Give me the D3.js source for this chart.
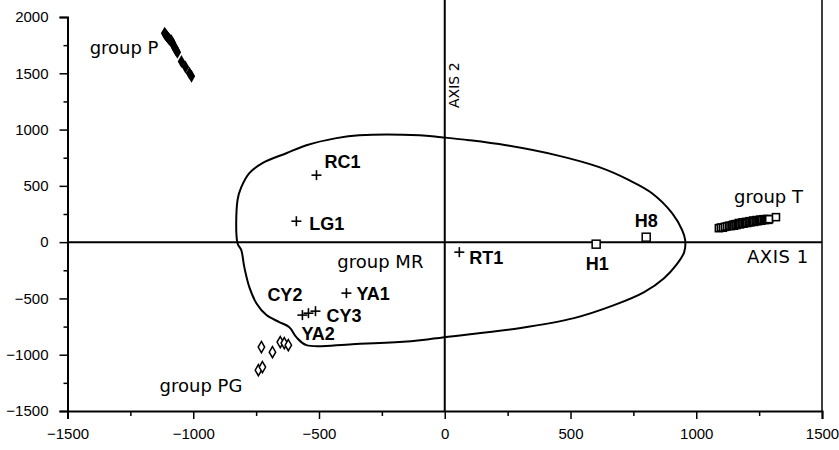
<!DOCTYPE html>
<html><head><meta charset="utf-8">
<script src="https://cdn.jsdelivr.net/npm/d3@7"></script>
<style>
body{margin:0;background:#fff;}
svg{display:block;}
</style>
</head><body>
<svg id="chart" width="839" height="450"></svg>
<script>
// ---------- DATA ----------
const xTicks = [-1500, -1000, -500, 0, 500, 1000, 1500];
const yTicks = [-1500, -1000, -500, 0, 500, 1000, 1500, 2000];

const groupP = [[-1114,1856],[-1110,1845],[-1106,1832],[-1102,1821],[-1098,1810],[-1094,1800],[-1087,1790],
  [-1082,1768],[-1078,1745],[-1072,1722],[-1068,1705],[-1063,1687],[-1047,1605],[-1031,1556],[-1015,1501],[-1007,1474]];

const groupT = [[1090,124],[1098,130],[1106,128],[1114,136],[1122,140],[1130,146],[1136,142],[1142,150],
  [1148,156],[1150,146],[1156,160],[1160,152],[1166,162],[1170,170],[1174,158],[1180,168],[1184,176],
  [1188,164],[1194,172],[1198,180],[1202,170],[1208,178],[1212,186],[1216,176],[1222,184],[1226,192],
  [1230,180],[1236,188],[1240,196],[1244,186],[1250,194],[1254,200],[1258,190],[1262,198],[1268,204],
  [1272,196],[1276,202],[1282,206],[1286,198],[1290,204],[1317,222]];

const groupPG = [[-729,-932],[-685,-977],[-654,-888],[-638,-897],[-622,-915],[-741,-1137],[-725,-1110]];

const mrNames = ["RC1","LG1","RT1","YA1","CY2","YA2","CY3"];
const mrX = [-510,-590,58,-391,-566,-542,-514];
const mrY = [595,186,-89,-453,-648,-631,-613];

const hNames = ["H1","H8"];
const hX = [602,801];
const hY = [-18,44];

const contour = [[-824,-9],[-824,373],[-809,488],[-777,613],[-725,702],[-630,790],[-550,861],[-431,924],
  [-340,950],[-101,950],[-14,932],[97,906],[244,861],[443,773],[614,666],[733,551],[824,435],[904,258],
  [944,107],[956,18],[952,-89],[920,-204],[872,-320],[793,-444],[673,-560],[514,-675],[296,-764],
  [-2,-844],[-89,-870],[-181,-888],[-368,-906],[-550,-915],[-590,-844],[-618,-755],[-658,-710],
  [-709,-648],[-749,-542],[-777,-400],[-797,-222],[-809,-71]];

const groupNames = ["group P","group MR","group T","group PG"];
const groupLabelX = [-1412,-427,1150,-1134];
const groupLabelY = [1670,-231,346,-1332];

// ---------- LAYOUT ----------
const L = {left:67.5, right:822, top:17, bottom:411};
const labelOffsets = {
  RC1:{dx:8,dy:-7,anchor:"start"}, LG1:{dx:13,dy:9,anchor:"start"}, RT1:{dx:10,dy:12,anchor:"start"},
  YA1:{dx:10,dy:7,anchor:"start"}, CY2:{dx:0,dy:-14,anchor:"end"}, YA2:{dx:-7,dy:27,anchor:"start"},
  CY3:{dx:11,dy:11,anchor:"start"}, H1:{dx:1,dy:26,anchor:"middle"}, H8:{dx:0,dy:-10,anchor:"middle"}
};

const svg = d3.select("#chart");
const x = d3.scaleLinear().domain([-1500,1500]).range([L.left, L.right]);
const y = d3.scaleLinear().domain([-1500,2000]).range([L.bottom, L.top]);

const g = svg.append("g");

// left axis
const yAxis = d3.axisLeft(y).tickValues(yTicks).tickSize(8).tickPadding(11).tickFormat(d3.format("d"));
g.append("g").attr("transform",`translate(${L.left},0)`).call(yAxis);
const yMinor = d3.axisLeft(y).tickValues(d3.range(-1250,2000,500)).tickSize(4).tickFormat("");
g.append("g").attr("transform",`translate(${L.left},0)`).call(yMinor).select(".domain").remove();

// bottom axis
const xAxis = d3.axisBottom(x).tickValues(xTicks).tickSize(8).tickPadding(9).tickFormat(d3.format("d"));
g.append("g").attr("transform",`translate(0,${L.bottom})`).call(xAxis);
const xMinor = d3.axisBottom(x).tickValues(d3.range(-1250,1500,500)).tickSize(5).tickFormat("");
g.append("g").attr("transform",`translate(0,${L.bottom})`).call(xMinor).select(".domain").remove();

svg.selectAll(".domain").attr("stroke","#000").attr("stroke-width",2);
svg.selectAll(".tick line").attr("stroke","#000").attr("stroke-width",1.5);
svg.selectAll(".tick text").attr("font-family","'Liberation Sans', Arial, sans-serif").attr("font-size",15).attr("fill","#000");

// right border
g.append("line").attr("x1",L.right).attr("x2",L.right).attr("y1",0).attr("y2",L.bottom)
  .attr("stroke","#000").attr("stroke-width",1.5);
// zero lines
g.append("line").attr("x1",x(0)).attr("x2",x(0)).attr("y1",0).attr("y2",L.bottom)
  .attr("stroke","#000").attr("stroke-width",2);
g.append("line").attr("x1",L.left).attr("x2",L.right).attr("y1",y(0)).attr("y2",y(0))
  .attr("stroke","#000").attr("stroke-width",2);

// contour
g.append("path").datum(contour)
  .attr("d", d3.line().x(d=>x(d[0])).y(d=>y(d[1])).curve(d3.curveCatmullRomClosed.alpha(0.5)))
  .attr("fill","none").attr("stroke","#000").attr("stroke-width",2);

// group P filled diamonds
const diamond = d3.symbol().type(d3.symbolDiamond).size(48);
g.append("g").selectAll("path").data(groupP).join("path")
  .attr("transform",d=>`translate(${x(d[0])},${y(d[1])})`).attr("d",diamond).attr("fill","#000");

// group PG open diamonds
const diamond2 = d3.symbol().type(d3.symbolDiamond).size(36);
g.append("g").selectAll("path").data(groupPG).join("path")
  .attr("transform",d=>`translate(${x(d[0])},${y(d[1])})`).attr("d",diamond2)
  .attr("fill","#fff").attr("stroke","#000").attr("stroke-width",1.5);

// group T open squares
g.append("g").selectAll("rect").data(groupT).join("rect")
  .attr("x",d=>x(d[0])-3.5).attr("y",d=>y(d[1])-3.5).attr("width",7).attr("height",7)
  .attr("fill","#fff").attr("stroke","#000").attr("stroke-width",1.6);

// H squares
const hData = hNames.map((n,i)=>({name:n,x:hX[i],y:hY[i]}));
g.append("g").selectAll("rect").data(hData).join("rect")
  .attr("x",d=>x(d.x)-4).attr("y",d=>y(d.y)-4).attr("width",8).attr("height",8)
  .attr("fill","#fff").attr("stroke","#000").attr("stroke-width",1.5);

// MR plus markers
const mrData = mrNames.map((n,i)=>({name:n,x:mrX[i],y:mrY[i]}));
const plusG = g.append("g").selectAll("g").data(mrData).join("g")
  .attr("transform",d=>`translate(${x(d.x)},${y(d.y)})`);
plusG.append("line").attr("x1",-5).attr("x2",5).attr("stroke","#000").attr("stroke-width",1.6);
plusG.append("line").attr("y1",-5).attr("y2",5).attr("stroke","#000").attr("stroke-width",1.6);

// point labels
g.append("g").selectAll("text").data(mrData.concat(hData)).join("text")
  .attr("x",d=>x(d.x)+labelOffsets[d.name].dx).attr("y",d=>y(d.y)+labelOffsets[d.name].dy)
  .attr("text-anchor",d=>labelOffsets[d.name].anchor)
  .attr("font-family","'Liberation Sans', Arial, sans-serif").attr("font-weight","bold")
  .attr("font-size",18).attr("fill","#000").text(d=>d.name);

// group labels
g.append("g").selectAll("text").data(groupNames).join("text")
  .attr("x",(d,i)=>x(groupLabelX[i])).attr("y",(d,i)=>y(groupLabelY[i]))
  .attr("font-family","'DejaVu Sans', sans-serif").attr("font-size",18).attr("fill","#000").text(d=>d);

// axis titles
g.append("text").attr("x",x(1202)).attr("y",y(-186))
  .attr("font-family","'DejaVu Sans', sans-serif").attr("font-size",18).attr("letter-spacing",0.5)
  .attr("fill","#000").text("AXIS 1");
g.append("text").attr("transform",`translate(${x(58)},${y(1394)}) rotate(-90)`).attr("text-anchor","middle")
  .attr("font-family","'DejaVu Sans', sans-serif").attr("font-size",14).attr("fill","#000").text("AXIS 2");
</script>
</body></html>
